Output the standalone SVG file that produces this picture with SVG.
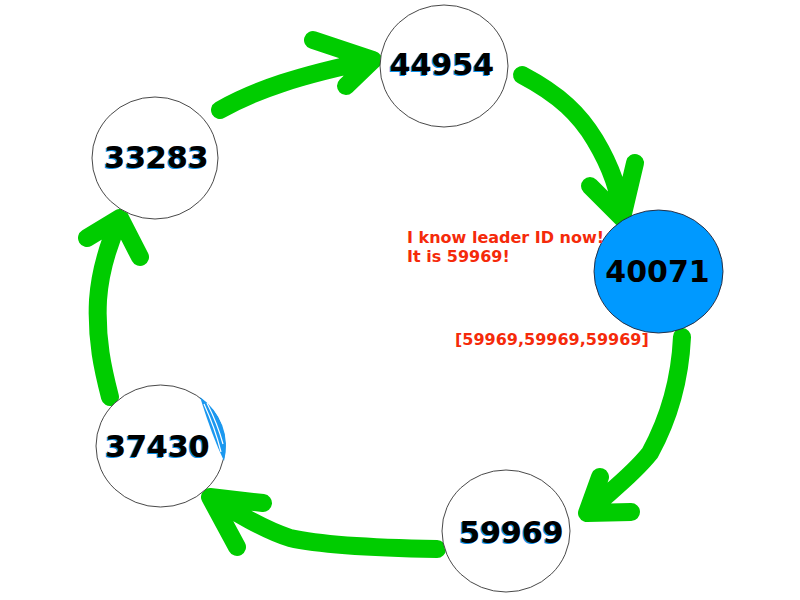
<svg xmlns="http://www.w3.org/2000/svg" width="800" height="600" viewBox="0 0 800 600">
<style>
.ring{fill:#fff;stroke:#333;stroke-width:0.9}
.lead{fill:#0099ff;stroke:#223;stroke-width:0.9}
.num{font-family:"DejaVu Sans",Verdana,sans-serif;font-weight:bold;font-size:30px;text-anchor:middle;fill:#000}
.sh{fill:#0a8ee8}
.arrow{fill:none;stroke:#00cc00;stroke-width:18;stroke-linecap:round;stroke-linejoin:round}
.note{font-family:"DejaVu Sans",Verdana,sans-serif;font-weight:bold;font-size:16px;fill:#f52a0a}
</style>
<rect width="800" height="600" fill="#fff"/>
<g id="connectors">
<path class="arrow" d="M220,110 C255,90 300,75 373,60 M313,40 L373,60 L346,86"/>
<path class="arrow" d="M522,75 C560,95 580,115 595,140 C610,165 620,190 622,218 M635,163 L622,218 L590,186"/>
<path class="arrow" d="M682,337 C680,380 668,420 650,453 C630,478 605,495 587,513 M600,477 L587,513 L631,512"/>
<path class="arrow" d="M437,549 C380,548 320,545 290,538 C265,530 240,515 210,497 M263,503 L210,497 L237,547"/>
<path class="arrow" d="M110,397 C103,370 96,340 98,300 C100,270 108,245 120,218 M87,238 L120,218 L140,257"/>
</g>
<g id="n44954">
<ellipse class="ring" cx="444" cy="66" rx="64" ry="61"/>
<text class="num sh" x="440.5" y="76">44954</text>
<text class="num" x="442" y="75">44954</text>
</g>
<g id="n33283">
<ellipse class="ring" cx="155" cy="158" rx="63" ry="61"/>
<text class="num sh" x="155" y="169">33283</text>
<text class="num" x="156.5" y="168">33283</text>
</g>
<g id="n40071">
<ellipse class="lead" cx="658.5" cy="271.5" rx="64.5" ry="61.5"/>
<text class="num" x="657.5" y="282" font-size="30.5">40071</text>
</g>
<g id="n37430">
<ellipse class="ring" cx="160.5" cy="446" rx="64.5" ry="61"/>
<path d="M200,397 A64.5,61 0 0 1 224,461 Q212,436 200,397 Z" fill="#1a98f0"/>
<path d="M204,404 Q215,428 221,452 M207,403 Q218,425 223,444" fill="none" stroke="#fff" stroke-width="1.2"/>
<text class="num sh" x="156" y="458">37430</text>
<text class="num" x="157.5" y="457">37430</text>
</g>
<g id="n59969">
<ellipse class="ring" cx="506" cy="531" rx="64" ry="61"/>
<text class="num sh" x="510" y="544">59969</text>
<text class="num" x="511.5" y="543">59969</text>
</g>
<g id="notes">
<text class="note" x="407" y="243">I know leader ID now!</text>
<text class="note" x="407" y="262">It is 59969!</text>
<text class="note" x="455" y="345">[59969,59969,59969]</text>
</g>
</svg>
